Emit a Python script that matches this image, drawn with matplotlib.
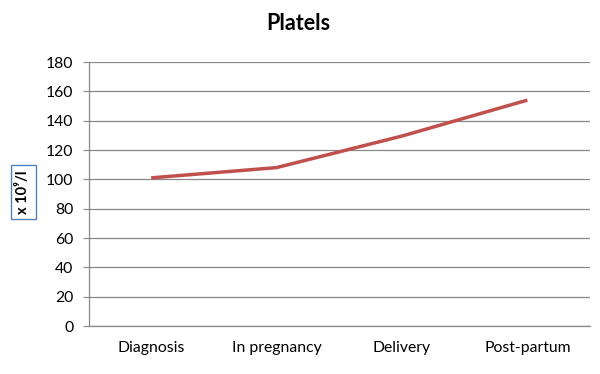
import matplotlib
matplotlib.use("Agg")
import matplotlib.pyplot as plt

categories = ["Diagnosis", "In pregnancy", "Delivery", "Post-partum"]
values = [101, 108, 129.5, 154]
yticks = [0, 20, 40, 60, 80, 100, 120, 140, 160, 180]

plt.rcParams['font.family'] = ['Lato', 'DejaVu Sans']

fig = plt.figure(figsize=(6.0, 3.74), dpi=100)
ax = fig.add_axes([88.5/600, 1-326/374, (590-88.5)/600, (326-62)/374])

x = list(range(len(categories)))
ax.plot(x, values, color='#C0504D', linewidth=2.5, solid_capstyle='butt')

ax.set_xlim(-0.5, len(categories)-0.5)
ax.set_ylim(0, 180)
ax.set_yticks(yticks)
ax.set_yticklabels([str(v) for v in yticks], fontsize=11.3)
ax.set_xticks(x)
ax.set_xticklabels(categories, fontsize=11.3)
ax.yaxis.grid(True, color='#888888', linewidth=0.9)
ax.set_axisbelow(True)
for s in ['top', 'right']:
    ax.spines[s].set_visible(False)
for s in ['left', 'bottom']:
    ax.spines[s].set_color('#888888')
    ax.spines[s].set_linewidth(0.9)
ax.tick_params(axis='y', length=4, color='#888888', pad=7)
ax.tick_params(axis='x', length=0, pad=11)

fig.text(298/600, 1-24/374, "Platels", fontsize=15.5, fontweight='bold', ha='center', va='center')
fig.text(23.5/600, 1-192/374, "x 10\u2079/l", rotation=90, fontsize=10.5, fontweight='bold',
         ha='center', va='center',
         bbox=dict(boxstyle='square,pad=0.35', facecolor='white', edgecolor='#4F81BD', linewidth=1))

fig.savefig("out.png", dpi=100)
